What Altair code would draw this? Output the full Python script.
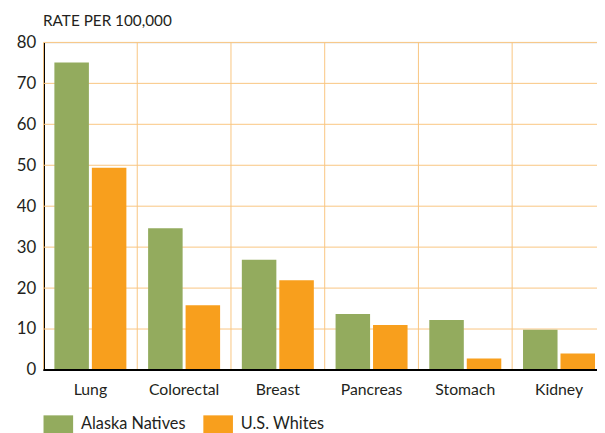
import altair as alt
import pandas as pd

categories = ["Lung", "Colorectal", "Breast", "Pancreas", "Stomach", "Kidney"]
alaska_natives = [75.1, 34.6, 26.9, 13.7, 12.2, 9.8]
us_whites = [49.4, 15.8, 21.9, 11.0, 2.8, 4.0]
groups = ["Alaska Natives", "U.S. Whites"]
colors = ["#93AB5E", "#F89F1D"]
y_ticks = [0, 10, 20, 30, 40, 50, 60, 70, 80]

rows = []
for c, a, w in zip(categories, alaska_natives, us_whites):
    rows.append({"cancer": c, "group": groups[0], "rate": a})
    rows.append({"cancer": c, "group": groups[1], "rate": w})
df = pd.DataFrame(rows)
cat_df = pd.DataFrame({"cancer": categories})
tick_df = pd.DataFrame({"v": y_ticks[1:]})
base_df = pd.DataFrame({"v": y_ticks[:1]})

TXT = "#231F20"
GRID = "#F9C580"

x_scale = alt.Scale(range=[0, 570], paddingInner=0, paddingOuter=0)
x_axis = alt.Axis(title=None, labelAngle=0, ticks=False, labelPadding=12,
                  labelFontSize=16, labelColor=TXT, domain=False, grid=False)
y_scale = alt.Scale(domain=[0, 80], nice=False)
y_axis = alt.Axis(values=y_ticks, title="RATE PER 100,000", titleAngle=0,
                  titleAlign="left", titleX=-1, titleY=-22, titleBaseline="middle",
                  titleFontSize=15.5, titleFontWeight="normal", titleColor=TXT,
                  ticks=False, labelPadding=8, labelFontSize=17, labelColor=TXT,
                  domainColor="#000000", domainWidth=2, grid=False)
legend = alt.Legend(title=None, orient="none", legendX=6, legendY=378,
                    direction="horizontal",
                    symbolType="M-1.667,-1H1.667V1H-1.667Z", symbolSize=324,
                    symbolStrokeWidth=0, symbolOpacity=1, labelOffset=14,
                    columnPadding=17, labelFontSize=16.5, labelColor=TXT, padding=0)

hgrid = alt.Chart(tick_df).mark_rule(color=GRID, strokeWidth=1).encode(
    y=alt.Y("v:Q", scale=y_scale, axis=y_axis),
)

vgrid = alt.Chart(cat_df).mark_rule(color=GRID, strokeWidth=1).encode(
    x=alt.X("cancer:N", bandPosition=0, scale=x_scale, axis=x_axis, sort=categories),
    y=alt.Y(datum=0, type="quantitative", scale=y_scale, axis=y_axis),
    y2=alt.datum(80),
)

bars = alt.Chart(df).mark_bar().encode(
    x=alt.X("cancer:N", scale=x_scale, axis=x_axis, sort=categories),
    xOffset=alt.XOffset("group:N", sort=groups,
                        scale=alt.Scale(paddingInner=0.079, paddingOuter=0.29)),
    y=alt.Y("rate:Q", scale=y_scale, axis=y_axis),
    color=alt.Color("group:N", sort=groups,
                    scale=alt.Scale(domain=groups, range=colors), legend=legend),
)

baseline = alt.Chart(base_df).mark_rule(color="#000000", strokeWidth=2).encode(
    y=alt.Y("v:Q", scale=y_scale, axis=y_axis),
)

chart = alt.layer(hgrid, vgrid, bars, baseline).properties(
    width=561, height=332,
    padding={"left": 36, "top": 32, "right": 0, "bottom": 61},
    autosize=alt.AutoSizeParams(type="none"),
).configure_view(stroke=None).configure(font="Lato")

chart.save("out.html", embed_options={"renderer": "svg", "actions": False})
